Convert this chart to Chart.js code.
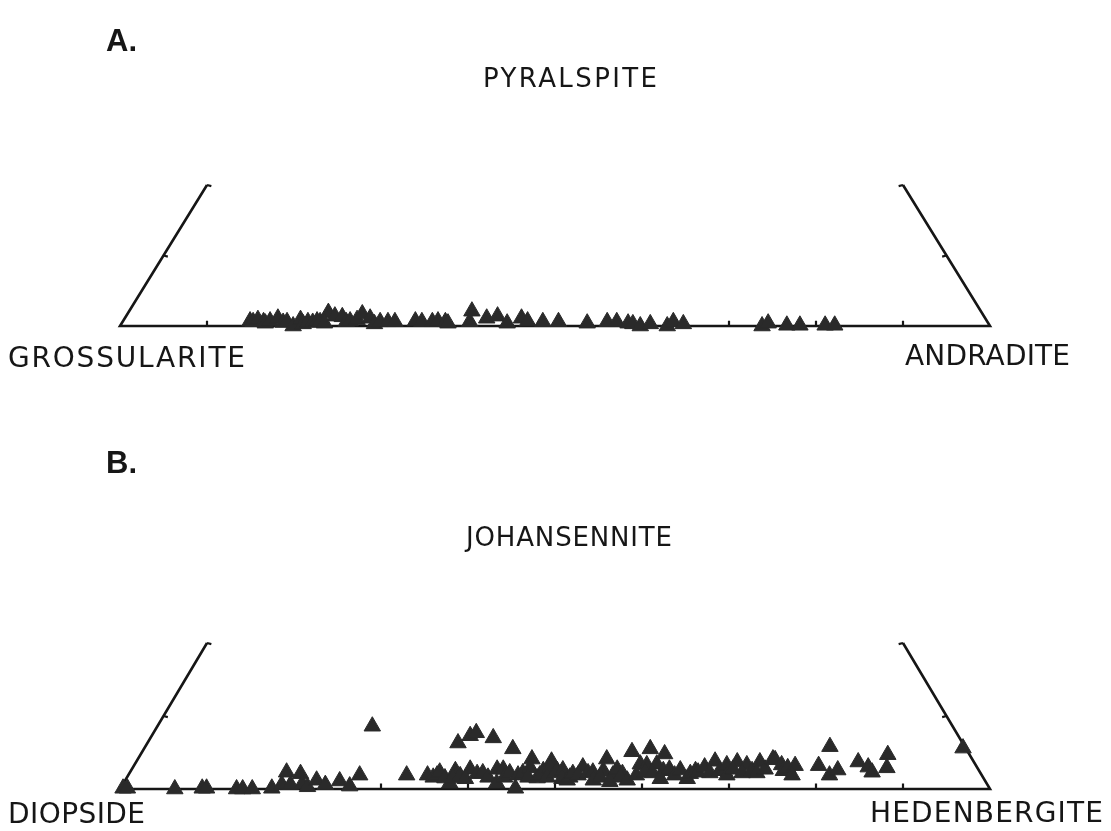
<!DOCTYPE html>
<html>
<head>
<meta charset="utf-8">
<script src="https://cdn.jsdelivr.net/npm/chart.js@4/dist/chart.umd.min.js"></script>
<style>
  html, body { margin: 0; padding: 0; background: #fff; }
  #wrap { position: relative; width: 1111px; height: 831px; }
  canvas { position: absolute; left: 0; }
</style>
</head>
<body>
<div id="wrap">
  <canvas id="garnet" width="1111" height="415" style="top:0"></canvas>
  <canvas id="pyroxene" width="1111" height="416" style="top:415px"></canvas>
</div>
<script>
// A. garnet: andradite % along the base, pyralspite % toward the (cut off) apex
const garnetAnd = [14.6, 15.0, 15.4, 16.2, 16.5, 16.9, 17.6, 18.5, 18.9, 19.9,
  20.3, 20.9, 21.3, 21.9, 22.3, 22.7, 23.0, 23.3, 24.0, 24.9,
  25.7, 26.1, 26.8, 27.0, 28.2, 29.1, 29.6, 30.5, 31.3, 33.6,
  34.4, 35.6, 36.2, 37.1, 37.5, 39.4, 39.9, 41.6, 42.7, 44.3,
  45.6, 46.5, 48.3, 50.1, 53.5, 55.7, 56.8, 58.2, 58.8, 59.8,
  60.8, 62.9, 63.3, 64.6, 73.8, 74.3, 76.6, 78.1, 81.0, 82.1];
const garnetPyr = [0.7, 0.6, 0.9, 0.6, 0.4, 0.7, 1.1, 0.5, 0.6, 0.0,
  0.9, 0.3, 0.6, 0.5, 0.7, 0.6, 1.9, 0.4, 1.4, 1.3,
  0.6, 0.7, 0.9, 1.7, 1.1, 0.3, 0.6, 0.6, 0.6, 0.7,
  0.6, 0.6, 0.7, 0.6, 0.4, 2.1, 0.6, 1.1, 1.4, 0.4,
  1.1, 0.7, 0.6, 0.6, 0.4, 0.6, 0.6, 0.4, 0.3, 0.0,
  0.3, 0.0, 0.6, 0.3, 0.0, 0.4, 0.1, 0.1, 0.1, 0.1];

// B. pyroxene: hedenbergite % along the base, johannsenite % toward the apex
const pyxHd = [0.3, 0.8, 6.3, 9.4, 9.9, 13.4, 14.1, 15.2, 17.4, 18.0,
  18.3, 19.3, 19.7, 20.6, 21.4, 22.0, 23.3, 24.7, 24.7, 26.2,
  26.6, 32.0, 34.4, 35.2, 35.5, 35.6, 35.7, 36.6, 36.6, 37.1,
  37.3, 37.5, 37.5, 38.2, 38.9, 39.0, 39.4, 40.0, 40.6, 41.5,
  42.0, 42.4, 42.7, 42.9, 43.4, 43.7, 44.8, 45.2, 45.3, 45.4,
  45.7, 46.1, 47.2, 47.3, 47.4, 47.7, 48.0, 48.3, 48.9, 49.0,
  49.6, 50.1, 50.8, 50.9, 51.0, 51.7, 51.7, 52.7, 53.2, 53.8,
  53.9, 54.3, 54.4, 55.7, 55.8, 55.8, 56.3, 56.7, 56.7, 57.7,
  58.1, 58.2, 58.4, 58.9, 59.2, 60.0, 60.1, 60.2, 61.2, 61.4,
  61.8, 62.8, 63.1, 64.5, 64.5, 64.9, 65.3, 65.7, 66.5, 66.7,
  67.7, 68.1, 68.8, 69.1, 69.1, 70.4, 70.4, 71.4, 71.7, 72.1,
  72.8, 73.0, 73.3, 74.4, 75.0, 75.3, 76.0, 76.3, 78.7, 78.7,
  80.6, 81.2, 83.0, 84.5, 85.3, 85.9, 86.7, 94.1];
const pyxJo = [0.1, 0.1, 0.0, 0.1, 0.1, 0.0, 0.0, 0.0, 0.1, 2.3,
  0.6, 0.6, 2.1, 0.7, 0.3, 1.2, 0.6, 1.1, 8.6, 0.4,
  1.9, 1.9, 1.9, 1.6, 1.9, 2.3, 6.3, 1.5, 7.3, 7.7,
  2.5, 0.8, 1.5, 1.8, 2.7, 1.4, 7.0, 2.1, 2.2, 1.6,
  2.7, 5.5, 2.7, 0.8, 1.6, 2.2, 1.9, 2.2, 4.1, 0.1,
  2.9, 1.6, 1.5, 1.9, 2.5, 3.8, 2.9, 1.6, 2.2, 2.5,
  2.6, 1.4, 1.2, 1.6, 2.1, 3.0, 1.9, 2.2, 2.3, 1.2,
  4.1, 2.5, 1.6, 1.9, 1.0, 2.7, 5.1, 2.1, 1.6, 1.2,
  3.4, 5.5, 1.9, 3.3, 2.3, 3.4, 2.2, 4.8, 2.5, 1.4,
  2.7, 1.9, 2.6, 1.4, 2.1, 2.5, 2.3, 3.0, 3.8, 2.2,
  2.5, 3.3, 1.9, 3.7, 2.7, 3.3, 2.2, 2.5, 3.7, 2.2,
  2.7, 4.1, 4.0, 3.3, 2.5, 2.9, 3.2, 1.9, 3.2, 5.8,
  1.9, 2.6, 3.7, 3.0, 2.3, 4.7, 2.9, 5.6];

// diagram shows the bottom 20 % of the triangle
const apexCut = 20;
const baseTicks = [10, 20, 30, 40, 50, 60, 70, 80, 90];
const sideTicks = [10, 20];

const ink = "#161616";
const markFill = "#2a2a2a";

// ternary -> cartesian (base 0..100, height measured in apex %)
function toXY(base, apex) {
  return { x: base + apex / 2, y: apex };
}

function frameData() {
  return [toXY(0, apexCut), toXY(0, 0), toXY(100, 0), toXY(100 - apexCut, apexCut)];
}

function tickData() {
  const pts = [];
  baseTicks.forEach(t => {
    pts.push({ x: t, y: 0 }, { x: t, y: 0.75 }, { x: t, y: null });
  });
  sideTicks.forEach(p => {
    const l = toXY(0, p), r = toXY(100 - p, p);
    pts.push(l, { x: l.x + 0.5, y: p - 0.15 }, { x: l.x, y: null });
    pts.push(r, { x: r.x - 0.5, y: p - 0.15 }, { x: r.x, y: null });
  });
  return pts;
}

// labels drawn on the canvas; width set -> letter spacing stretched to it
const labelPlugin = {
  id: "labels",
  afterDraw(chart, args, opts) {
    const ctx = chart.ctx;
    ctx.save();
    ctx.fillStyle = ink;
    ctx.textBaseline = "alphabetic";
    opts.items.forEach(l => {
      ctx.font = `${l.weight || "normal"} ${l.size}px ${l.family || '"DejaVu Sans"'}, sans-serif`;
      ctx.letterSpacing = "0px";
      if (l.width) {
        const w = ctx.measureText(l.text).width;
        ctx.letterSpacing = ((l.width - w) / (l.text.length - 1)) + "px";
      }
      ctx.fillText(l.text, l.x, l.cy + l.size * 0.365);
    });
    ctx.restore();
  }
};

function makeChart(id, baseVals, apexVals, pad, labels) {
  const pts = baseVals.map((b, i) => toXY(b, apexVals[i]));
  return new Chart(document.getElementById(id), {
    type: "scatter",
    data: {
      datasets: [
        {
          type: "line",
          data: frameData(),
          borderColor: ink,
          borderWidth: 2.6,
          pointRadius: 0,
          tension: 0,
          fill: false,
          clip: false,
          order: 3
        },
        {
          type: "line",
          data: tickData(),
          borderColor: ink,
          borderWidth: 2.2,
          pointRadius: 0,
          spanGaps: false,
          fill: false,
          clip: false,
          order: 2
        },
        {
          data: pts,
          pointStyle: "triangle",
          pointRadius: 9.5,
          backgroundColor: markFill,
          borderColor: markFill,
          borderWidth: 1,
          clip: false,
          order: 1
        }
      ]
    },
    options: {
      responsive: false,
      animation: false,
      devicePixelRatio: 1,
      layout: { padding: pad },
      scales: {
        x: { type: "linear", min: 0, max: 100, display: false },
        y: { type: "linear", min: 0, max: apexCut, display: false }
      },
      plugins: {
        legend: { display: false },
        tooltip: { enabled: false },
        labels: { items: labels }
      }
    },
    plugins: [labelPlugin]
  });
}

makeChart("garnet", garnetAnd, garnetPyr,
  { left: 120, right: 121, top: 185, bottom: 89 },
  [
    { text: "A.", x: 106, cy: 40, size: 31, weight: "bold", family: '"Liberation Sans"' },
    { text: "PYRALSPITE", x: 483, cy: 78, width: 174, size: 26 },
    { text: "GROSSULARITE", x: 8, cy: 357, width: 237, size: 28 },
    { text: "ANDRADITE", x: 905, cy: 355, width: 165, size: 28 }
  ]);

makeChart("pyroxene", pyxHd, pyxJo,
  { left: 120, right: 121, top: 228, bottom: 42 },
  [
    { text: "B.", x: 106, cy: 47, size: 31, weight: "bold", family: '"Liberation Sans"' },
    { text: "JOHANSENNITE", x: 466, cy: 122, width: 206, size: 26 },
    { text: "DIOPSIDE", x: 8, cy: 398, width: 137, size: 28 },
    { text: "HEDENBERGITE", x: 870, cy: 397, width: 233, size: 28 }
  ]);
</script>
</body>
</html>
